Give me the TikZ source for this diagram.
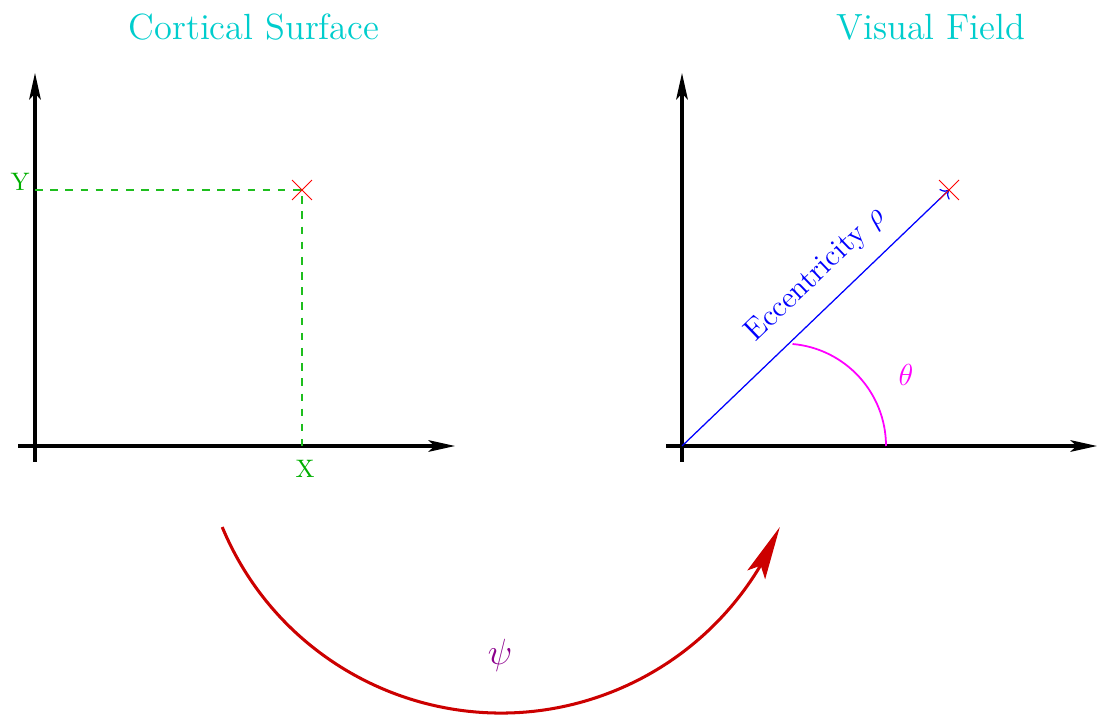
\documentclass[tikz,border=0pt]{standalone}
\usetikzlibrary{arrows.meta,shapes.misc,calc}
\definecolor{titlecyan}{RGB}{0,205,205}
\definecolor{labgreen}{RGB}{0,175,0}
\definecolor{dashgreen}{RGB}{30,190,30}
\definecolor{arcred}{RGB}{204,0,0}
\definecolor{psiviolet}{RGB}{140,0,140}
\definecolor{anglemag}{RGB}{255,0,255}
\definecolor{eccblue}{RGB}{0,0,255}
\definecolor{crossred}{RGB}{255,0,0}
\begin{document}
\begin{tikzpicture}[x=0.3953pt,y=0.3953pt,
  axis/.style={line width=1.2pt,-{Stealth[length=10.5pt,width=4.6pt,inset=2.4pt]}},
  guide/.style={dashed,draw=dashgreen,line width=0.6pt},
  crossmark/.style={draw=crossred,cross out,minimum size=7.5pt,inner sep=0pt,line width=0.4pt},
  title/.style={text=titlecyan,font=\Large,anchor=base},
  axlabel/.style={text=labgreen,inner sep=0pt},
  maparrow/.style={draw=arcred,line width=1.2pt}]
\useasboundingbox (0,0) rectangle (1098,715);
% titles
\node[title] (T1) at (254,675) {Cortical Surface};
\node[title] (T2) at (931,675) {Visual Field};
% left axes
\coordinate (O1) at (35,269);
\coordinate (X1a) at (18,269);
\coordinate (X1b) at (455,269);
\coordinate (Y1a) at (35,253);
\coordinate (Y1b) at (35,642);
\draw[axis] (X1a) -- (X1b);
\draw[axis] (Y1a) -- (Y1b);
\coordinate (P1c) at (302,525);
\coordinate (PY) at (35,525);
\coordinate (PX) at (302,269);
\draw[guide] (PY) -- (P1c) -- (PX);
\node[crossmark] (P1) at (P1c) {};
\node[axlabel,anchor=base east] (Ylab) at (30,524) {Y};
\node[axlabel,anchor=base] (Xlab) at (305,237) {X};
% right axes
\coordinate (O2) at (682,269);
\coordinate (X2a) at (666,269);
\coordinate (X2b) at (1097,269);
\coordinate (Y2a) at (682,253);
\coordinate (Y2b) at (682,642);
\draw[axis] (X2a) -- (X2b);
\draw[axis] (Y2a) -- (Y2b);
\coordinate (P2c) at (949,525);
\draw[eccblue,line width=0.5pt,->] (O2) -- (P2c)
  node[pos=0.58,sloped,above,inner sep=6.6pt,font=\large] (ecc) {Eccentricity $\rho$};
\node[crossmark] (P2) at (P2c) {};
\coordinate (A0) at (886,269);
\draw[anglemag,line width=0.7pt] (A0) arc[start angle=0,end angle=85,radius=102.4];
\node[text=anglemag,font=\large,inner sep=0pt] (theta) at (906,340) {$\theta$};
% mapping arrow
\coordinate (C) at (501,304);
\coordinate (S) at ($(C)+(202.6:302)$);
\coordinate (B) at ($(C)+(330:302)$);
\coordinate (E) at ($(C)+(337.4:302)$);
\draw[maparrow] (S) arc[start angle=202.6,end angle=333,radius=302];
\draw[maparrow,-{Stealth[length=21pt,width=7.8pt,inset=4pt]}] (B) -- (E);
\node[text=psiviolet,font=\Large,inner sep=0pt] (psi) at (500,60) {$\psi$};
\end{tikzpicture}
\end{document}
